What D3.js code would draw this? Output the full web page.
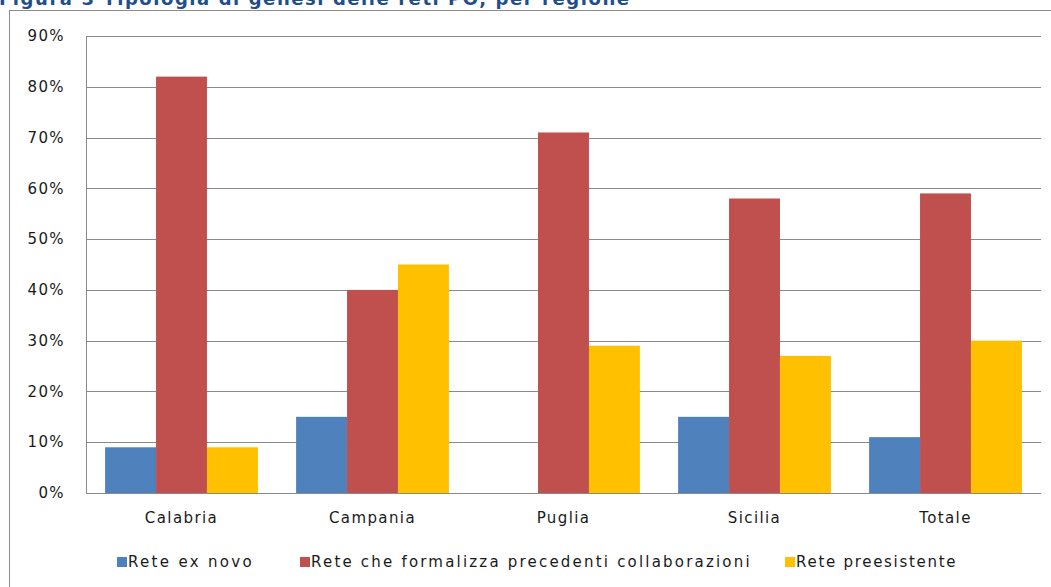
<!DOCTYPE html>
<html>
<head>
<meta charset="utf-8">
<script src="https://cdn.jsdelivr.net/npm/d3@7"></script>
<style>
  body { margin: 0; background: #fff; }
  svg { display: block; }
</style>
</head>
<body>
<script>
// data
const regions = ["Calabria", "Campania", "Puglia", "Sicilia", "Totale"];
const seriesNames = ["Rete ex novo", "Rete che formalizza precedenti collaborazioni", "Rete preesistente"];
const exNovo = [9, 15, 0, 15, 11];
const formalizza = [82, 40, 71, 58, 59];
const preesistente = [9, 45, 29, 27, 30];
const yTicks = [0, 10, 20, 30, 40, 50, 60, 70, 80, 90];

const colours = ["#4F81BD", "#C0504D", "#FFC000"];
const series = [exNovo, formalizza, preesistente];

const width = 1051, height = 587;
const margin = {left: 86, right: 10, top: 36, bottom: 94};

const svg = d3.select("body").append("svg")
    .attr("width", width)
    .attr("height", height)
    .style("font-family", "'DejaVu Sans', Verdana, sans-serif");

// title, mostly cut by the top edge like in the source
svg.append("text")
    .attr("x", -1)
    .attr("y", 5)
    .attr("textLength", 630)
    .style("font-size", "18px")
    .style("font-weight", "bold")
    .style("fill", "#1F4E8C")
    .text("Figura 3 Tipologia di genesi delle reti PO, per regione");

// outer chart box
svg.append("rect")
    .attr("x", 9.5)
    .attr("y", 10.5)
    .attr("width", width)
    .attr("height", height)
    .attr("fill", "none")
    .attr("stroke", "#8c8c8c");

const x = d3.scaleBand()
    .domain(regions)
    .range([margin.left, 1041])
    .paddingInner(0.2)
    .paddingOuter(0.1);

const xs = d3.scaleBand()
    .domain(d3.range(series.length))
    .range([0, x.bandwidth()]);

const y = d3.scaleLinear()
    .domain([0, 90])
    .range([493, margin.top]);

// gridlines
svg.append("g")
    .selectAll("line")
    .data(yTicks)
    .join("line")
    .attr("x1", margin.left)
    .attr("x2", 1041)
    .attr("y1", d => Math.round(y(d)) + 0.5)
    .attr("y2", d => Math.round(y(d)) + 0.5)
    .attr("stroke", "#8a8a8a");

const labelStyle = sel => sel
    .style("font-size", "15px")
    .style("letter-spacing", "1.4px")
    .style("fill", "#1a1a1a");

// y tick labels
svg.append("g")
    .selectAll("text")
    .data(yTicks)
    .join("text")
    .attr("x", 65)
    .attr("y", d => y(d))
    .attr("dy", "0.35em")
    .attr("text-anchor", "end")
    .call(labelStyle)
    .text(d => d + "%");

// bars
svg.append("g")
    .selectAll("g")
    .data(series)
    .join("g")
    .attr("fill", (d, i) => colours[i])
    .each(function (vals, i) {
        d3.select(this).selectAll("rect")
            .data(vals)
            .join("rect")
            .attr("x", (v, j) => x(regions[j]) + xs(i))
            .attr("width", xs.bandwidth())
            .attr("y", v => y(v))
            .attr("height", v => y(0) - y(v));
    });

// axis line on the left
svg.append("line")
    .attr("x1", margin.left + 0.5)
    .attr("x2", margin.left + 0.5)
    .attr("y1", y(90))
    .attr("y2", y(0))
    .attr("stroke", "#8a8a8a");

// category labels
svg.append("g")
    .selectAll("text")
    .data(regions)
    .join("text")
    .attr("x", d => x(d) + x.bandwidth() / 2)
    .attr("y", 523)
    .attr("text-anchor", "middle")
    .call(labelStyle)
    .text(d => d);

// legend
const legendX = [117, 300, 785];
const legendLen = [125, 440, 161];
const legend = svg.append("g")
    .selectAll("g")
    .data(seriesNames)
    .join("g")
    .attr("transform", (d, i) => `translate(${legendX[i]},562)`);

legend.append("rect")
    .attr("x", 0)
    .attr("y", -5)
    .attr("width", 10)
    .attr("height", 10)
    .attr("fill", (d, i) => colours[i]);

legend.append("text")
    .attr("x", 11)
    .attr("y", 0)
    .attr("dy", "0.35em")
    .attr("textLength", (d, i) => legendLen[i])
    .call(labelStyle)
    .text(d => d);
</script>
</body>
</html>
